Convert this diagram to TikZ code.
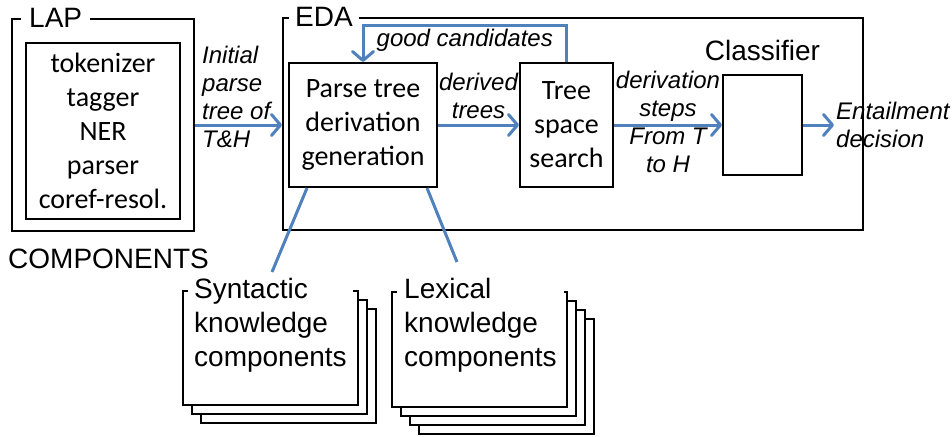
\documentclass[tikz,border=0pt]{standalone}
\usepackage{fontspec}
\setmainfont{Liberation Sans}
\newfontfamily\calibri{Carlito}
\usetikzlibrary{arrows.meta,positioning}
\definecolor{linkblue}{RGB}{79,129,189}
\tikzset{
  frame/.style = {draw, line width=2pt, rectangle},
  box/.style = {draw, line width=2pt, rectangle, fill=white, inner sep=4pt, align=center, font=\calibri\fontsize{28}{34}\selectfont},
  sheet/.style = {draw, line width=2pt, fill=white, minimum width=175, minimum height=114},
  title/.style = {fill=white, inner xsep=7pt, inner ysep=1pt, anchor=west, font=\fontsize{28}{34}\selectfont},
  stacklbl/.style = {fill=white, inner sep=6pt, align=left, anchor=north west, font=\fontsize{28}{34}\selectfont},
  lbl/.style = {inner sep=2pt, align=center, font=\itshape\fontsize{24}{28}\selectfont},
  flow/.style = {draw=linkblue, line width=3pt, -{Straight Barb[length=9pt,width=21pt,round]}},
  link/.style = {draw=linkblue, line width=3pt}
}

\begin{document}
\begin{tikzpicture}[x=1pt, y=-1pt]
        \useasboundingbox (0,0) rectangle (952,436);
        % LAP
        \node[frame, minimum width=182, minimum height=212] (lap) at (103,125) {};
        \node[title, inner xsep=8pt] (laptitle) at ([xshift=10pt]lap.north west) {LAP};
        \node[box, minimum width=154, minimum height=176] (tools) at (103,131) {tokenizer\\tagger\\NER\\parser\\coref-resol.};
        % EDA
        \node[frame, minimum width=580, minimum height=212] (eda) at (573,124) {};
        \node[title, inner xsep=6pt] (edatitle) at ([xshift=7pt]eda.north west) {EDA};
        \node[box, minimum width=148, minimum height=124] (parse) at (363,125) {Parse tree\\derivation\\generation};
        \node[box, minimum width=93, minimum height=124, right=81pt of parse] (tree) {Tree\\space\\search};
        \node[box, minimum width=79, minimum height=100, right=108pt of tree] (clf) {};
        \node[above=11pt of clf, inner sep=2pt, font=\fontsize{28}{34}\selectfont] (clflbl) {Classifier};
        \node[lbl, align=left, right=31pt of clf] (decision) {Entailment\\decision};
        \node[lbl, align=left, anchor=west] (initlbl) at (200,97) {Initial\\parse\\tree of\\T\&H};
        \draw[flow] (lap.east) -- (lap.east -| eda.west);
        \draw[flow] (parse) -- node[lbl, above=3pt] (derivlbl) {derived\\trees} (tree);
        \draw[flow] (tree) -- node[lbl, yshift=3pt] (steplbl) {derivation\\steps\\From T\\to H} (clf);
        \draw[flow] (clf) -- (decision);
        \draw[flow] (tree.north) -- ++(0,-36) -| node[lbl, below, pos=0.25] (goodlbl) {good candidates} (parse.north);
        % knowledge components
        \node[anchor=base west, inner sep=0pt, font=\fontsize{28}{34}\selectfont] (complbl) at (8,268) {COMPONENTS};
        \foreach \i in {2,1,0}
            \node[sheet] (syn\i) at ({270.5+9*\i},{348+9*\i}) {};
        \node[stacklbl] (synlbl) at ([xshift=6pt,yshift=18pt]syn0.north west) {Syntactic\\knowledge\\components};
        \foreach \i in {3,2,1,0}
            \node[sheet, minimum height=115] (lex\i) at ({479.5+9*\i},{349.5+9*\i}) {};
        \node[stacklbl, inner xsep=7pt] (lexlbl) at ([xshift=6pt,yshift=19pt]lex0.north west) {Lexical\\knowledge\\components};
        \coordinate (synend) at (272,272);
        \coordinate (lexend) at (457,262);
        \draw[link] ([xshift=19pt]parse.south west) -- (synend);
        \draw[link] ([xshift=-11pt]parse.south east) -- (lexend);
    \end{tikzpicture}
\end{document}
